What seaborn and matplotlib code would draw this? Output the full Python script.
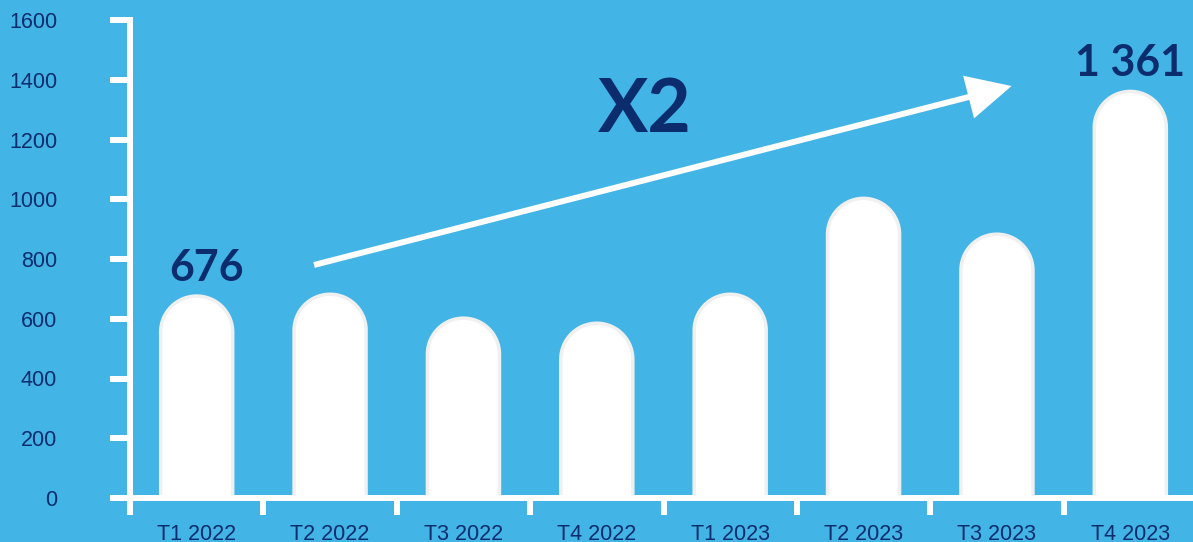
import numpy as np
import pandas as pd
import seaborn as sns
from matplotlib import pyplot as plt
from matplotlib.patches import Polygon, FancyArrowPatch

quarters = ["T1 2022", "T2 2022", "T3 2022", "T4 2022",
            "T1 2023", "T2 2023", "T3 2023", "T4 2023"]
values = [676, 682, 602, 585, 682, 1003, 883, 1361]
yticks = [0, 200, 400, 600, 800, 1000, 1200, 1400, 1600]
first_label = "676"
last_label = "1 361"
growth_label = "X2"

bg = "#42b4e6"
navy = "#0b2d6e"

df = pd.DataFrame({"quarter": quarters, "value": values})

sns.set_style("ticks")
plt.rcParams["font.family"] = ["Liberation Sans", "DejaVu Sans"]

fig = plt.figure(figsize=(11.93, 5.42), dpi=100, facecolor=bg)
ax = fig.add_axes([130 / 1193, 44 / 542, 1067 / 1193, 478 / 542])
ax.set_facecolor(bg)

sns.barplot(data=df, x="quarter", y="value", color="white", width=0.54,
            saturation=1, ax=ax, zorder=3)
ax.set_xlim(-0.5, 7.5)
ax.set_ylim(0, 1600)


def round_top(ax, patch):
    # replace the flat bar by a bar with a half-circle cap
    x0, w, h = patch.get_x(), patch.get_width(), patch.get_height()
    p0 = ax.transData.transform((x0, 0))
    p1 = ax.transData.transform((x0 + w, 1))
    r_px = (p1[0] - p0[0]) / 2
    r_y = r_px / (p1[1] - p0[1])
    t = np.linspace(np.pi, 0, 60)
    cx = x0 + w / 2
    arc = np.column_stack([cx + w / 2 * np.cos(t), h - r_y + r_y * np.sin(t)])
    pts = np.vstack([[x0, 0], arc, [x0 + w, 0]])
    ax.add_patch(Polygon(pts, closed=True, facecolor="white", edgecolor="#f0f0f0",
                         lw=2.5, zorder=3))
    patch.set_visible(False)


for p in list(ax.patches):
    round_top(ax, p)

# axes styling
for s in ["top", "right"]:
    ax.spines[s].set_visible(False)
for s in ["left", "bottom"]:
    ax.spines[s].set_color("white")
    ax.spines[s].set_linewidth(4.3)
    ax.spines[s].set_zorder(4)

ax.set_yticks(yticks)
ax.tick_params(axis="y", length=14.4, width=4.3, color="white", pad=38,
               labelsize=15.5, labelcolor=navy)
ax.set_xticks(range(len(quarters)))
ax.set_xticklabels(quarters)
ax.set_xticks(np.arange(-0.5, len(quarters), 1), minor=True)
ax.tick_params(axis="x", which="major", length=0, pad=19, labelsize=15.5,
               labelcolor=navy)
ax.tick_params(axis="x", which="minor", length=12, width=4.3, color="white")
ax.set_xlabel("")
ax.set_ylabel("")

# value labels
ax.annotate(first_label, xy=(0.07, values[0]), xytext=(0, 11), textcoords="offset points",
            ha="center", va="baseline", fontsize=31, fontweight="bold", color=navy,
            family="Lato", annotation_clip=False)
ax.annotate(last_label, xy=(7, values[-1]), xytext=(0, 11), textcoords="offset points",
            ha="center", va="baseline", fontsize=31, fontweight="bold", color=navy,
            family="Lato", annotation_clip=False)

# growth arrow
arrow = FancyArrowPatch((0.88, 780), (6.11, 1379),
                        arrowstyle="-|>,head_length=1.25,head_width=0.62",
                        mutation_scale=20, color="white", lw=4.3, zorder=5,
                        shrinkA=0, shrinkB=0, capstyle="butt", joinstyle="miter")
ax.add_patch(arrow)
ax.text(3.36, 1224, growth_label, ha="center", va="baseline", fontsize=54,
        fontweight="bold", color=navy, family="Lato")

fig.savefig("out.png", dpi=100, facecolor=bg)
